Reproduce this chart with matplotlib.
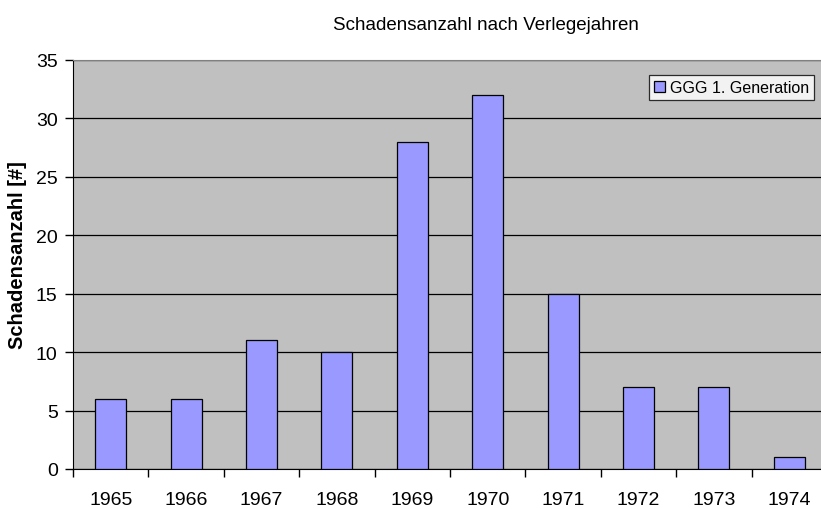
import matplotlib
matplotlib.use("Agg")
import matplotlib.pyplot as plt
import numpy as np

plt.rcParams['font.family'] = ['Liberation Sans', 'DejaVu Sans']

years = ['1965', '1966', '1967', '1968', '1969', '1970', '1971', '1972', '1973', '1974']
counts = [6, 6, 11, 10, 28, 32, 15, 7, 7, 1]
series_name = 'GGG 1. Generation'
title = 'Schadensanzahl nach Verlegejahren'
ylabel = 'Schadensanzahl [#]'

W, H = 821, 510
fig = plt.figure(figsize=(W/100, H/100), dpi=100)
left, right, top, bottom = 73, 827, 61, 470
ax = fig.add_axes([left/W, 1 - bottom/H, (right-left)/W, (bottom-top)/H])
ax.set_facecolor('#C0C0C0')

x = np.arange(len(years))
ax.bar(x, counts, width=0.41, color='#9999FF', edgecolor='black', linewidth=0.9,
       label=series_name, zorder=3)
ax.set_xlim(-0.5, len(years) - 0.5)
ax.set_ylim(0, 35)
ax.set_yticks(range(0, 36, 5))
ax.yaxis.grid(True, color='black', linewidth=0.9, zorder=1)
ax.set_axisbelow(True)

ax.set_xticks(x)
ax.set_xticklabels(years, fontsize=14)
ax.tick_params(axis='x', which='major', length=0, pad=16)
ax.set_xticks(np.arange(-0.5, len(years), 1), minor=True)
ax.tick_params(axis='x', which='minor', length=6, width=1, direction='out')
ax.tick_params(axis='y', labelsize=14, length=6, width=1, direction='out', pad=5)

ax.spines['right'].set_visible(False)
ax.spines['top'].set_color('#808080')
ax.spines['left'].set_color('black')
ax.spines['bottom'].set_color('black')

ax.set_ylabel(ylabel, fontsize=14.5, fontweight='bold')
ax.yaxis.set_label_coords((27 - left)/(right-left), (470 - 255)/(bottom-top))

fig.text(486/W, 1 - 30/H, title, ha='center', va='baseline', fontsize=13.5)

leg = ax.legend(loc='upper right', bbox_to_anchor=((814-left)/(right-left), 1 - (76-top)/(bottom-top)),
                fontsize=11.5, frameon=True, fancybox=False, edgecolor='black',
                handlelength=0.7, handleheight=0.7, handletextpad=0.3, borderpad=0.3,
                borderaxespad=0)
leg.get_frame().set_linewidth(0.9)
leg.get_frame().set_facecolor('white')

fig.savefig('out.png', dpi=100)
